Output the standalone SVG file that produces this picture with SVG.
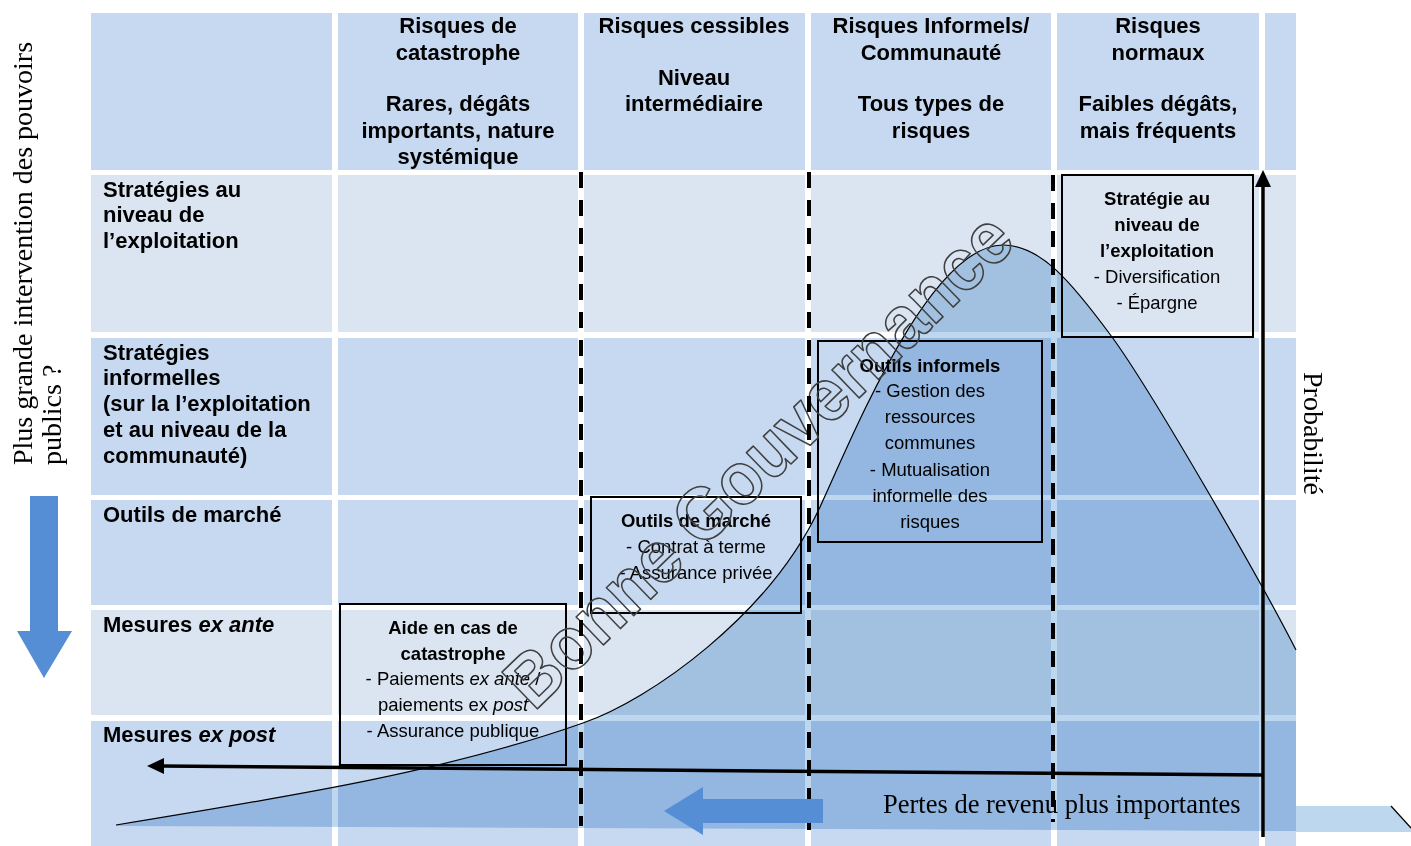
<svg xmlns="http://www.w3.org/2000/svg" width="1411" height="846" viewBox="0 0 1411 846">
<style>
.d{fill:#C6D9F1}
.l{fill:#DBE5F1}
.h{font-family:"Liberation Sans",Arial,sans-serif;font-weight:bold;font-size:22px;fill:#000;text-anchor:middle}
.r{font-family:"Liberation Sans",Arial,sans-serif;font-weight:bold;font-size:22px;fill:#000}
.b{font-family:"Liberation Sans",Arial,sans-serif;font-size:18.5px;fill:#000;text-anchor:middle}
.bb{font-weight:bold}
.it{font-style:italic}
.box{fill:none;stroke:#000;stroke-width:2}
.dash{stroke:#000;stroke-width:4;stroke-dasharray:16 12;fill:none}
.ax{stroke:#000;stroke-width:3.5;fill:none}
.ser{font-family:"Liberation Serif","Times New Roman",serif;fill:#000}
.wm{font-family:"Liberation Sans",Arial,sans-serif;font-weight:bold;font-size:74px;fill:none;stroke:#404040;stroke-width:1.6;stroke-linejoin:round}
.blue{fill:#558ED5}
</style>

<g id="table">
  <rect class="d" x="91" y="13" width="241" height="157"/>
  <rect class="d" x="338" y="13" width="240" height="157"/>
  <rect class="d" x="584" y="13" width="221" height="157"/>
  <rect class="d" x="811" y="13" width="240" height="157"/>
  <rect class="d" x="1057" y="13" width="202" height="157"/>
  <rect class="d" x="1265" y="13" width="31" height="157"/>

  <rect class="l" x="91" y="175" width="241" height="157"/>
  <rect class="l" x="338" y="175" width="240" height="157"/>
  <rect class="l" x="584" y="175" width="221" height="157"/>
  <rect class="l" x="811" y="175" width="240" height="157"/>
  <rect class="l" x="1057" y="175" width="202" height="157"/>
  <rect class="l" x="1265" y="175" width="31" height="157"/>

  <rect class="d" x="91" y="338" width="241" height="157"/>
  <rect class="d" x="338" y="338" width="240" height="157"/>
  <rect class="d" x="584" y="338" width="221" height="157"/>
  <rect class="d" x="811" y="338" width="240" height="157"/>
  <rect class="d" x="1057" y="338" width="202" height="157"/>
  <rect class="d" x="1265" y="338" width="31" height="157"/>

  <rect class="d" x="91" y="500" width="241" height="105"/>
  <rect class="d" x="338" y="500" width="240" height="105"/>
  <rect class="d" x="584" y="500" width="221" height="105"/>
  <rect class="d" x="811" y="500" width="240" height="105"/>
  <rect class="d" x="1057" y="500" width="202" height="105"/>
  <rect class="d" x="1265" y="500" width="31" height="105"/>

  <rect class="l" x="91" y="610" width="241" height="105"/>
  <rect class="l" x="338" y="610" width="240" height="105"/>
  <rect class="l" x="584" y="610" width="221" height="105"/>
  <rect class="l" x="811" y="610" width="240" height="105"/>
  <rect class="l" x="1057" y="610" width="202" height="105"/>
  <rect class="l" x="1265" y="610" width="31" height="105"/>

  <rect class="d" x="91" y="721" width="241" height="125"/>
  <rect class="d" x="338" y="721" width="240" height="125"/>
  <rect class="d" x="584" y="721" width="221" height="125"/>
  <rect class="d" x="811" y="721" width="240" height="125"/>
  <rect class="d" x="1057" y="721" width="202" height="125"/>
  <rect class="d" x="1265" y="721" width="31" height="125"/>
</g>

<g id="curve">
  <path d="M116,825 C300,795 450,770 583,723 C650,700 770,615 820,507 C855,431 930,245 1003,245 C1040,245 1070,280 1112,337 C1150,389 1255,570 1296,650 L1296,831 L116,826 Z" fill="#BDD7EE" style="mix-blend-mode:multiply"/>
  <path d="M1296,806 L1391,806 L1411,828 L1411,832 L1296,832 Z" fill="#BDD7EE"/>
  <path d="M116,825 C300,795 450,770 583,723 C650,700 770,615 820,507 C855,431 930,245 1003,245 C1040,245 1070,280 1112,337 C1150,389 1255,570 1296,650" fill="none" stroke="#000" stroke-width="1.2"/>
  <line x1="1391" y1="806" x2="1411" y2="828" stroke="#000" stroke-width="1.2"/>
</g>

<g id="headers">
  <text class="h" x="458" y="33">Risques de</text>
  <text class="h" x="458" y="60">catastrophe</text>
  <text class="h" x="458" y="111">Rares, dégâts</text>
  <text class="h" x="458" y="138">importants, nature</text>
  <text class="h" x="458" y="164">systémique</text>

  <text class="h" x="694" y="33">Risques cessibles</text>
  <text class="h" x="694" y="85">Niveau</text>
  <text class="h" x="694" y="111">intermédiaire</text>

  <text class="h" x="931" y="33">Risques Informels/</text>
  <text class="h" x="931" y="60">Communauté</text>
  <text class="h" x="931" y="111">Tous types de</text>
  <text class="h" x="931" y="138">risques</text>

  <text class="h" x="1158" y="33">Risques</text>
  <text class="h" x="1158" y="60">normaux</text>
  <text class="h" x="1158" y="111">Faibles dégâts,</text>
  <text class="h" x="1158" y="138">mais fréquents</text>
</g>

<g id="row-labels">
  <text class="r" x="103" y="197">Stratégies au</text>
  <text class="r" x="103" y="222">niveau de</text>
  <text class="r" x="103" y="248">l’exploitation</text>

  <text class="r" x="103" y="360">Stratégies</text>
  <text class="r" x="103" y="385">informelles</text>
  <text class="r" x="103" y="411">(sur la l’exploitation</text>
  <text class="r" x="103" y="437">et au niveau de la</text>
  <text class="r" x="103" y="463">communauté)</text>

  <text class="r" x="103" y="522">Outils de marché</text>
  <text class="r" x="103" y="632">Mesures <tspan class="it">ex ante</tspan></text>
  <text class="r" x="103" y="742">Mesures <tspan class="it">ex post</tspan></text>
</g>

<g id="box-catastrophe">
  <rect class="box" x="340" y="604" width="226" height="161"/>
  <text class="b bb" x="453" y="634">Aide en cas de</text>
  <text class="b bb" x="453" y="660">catastrophe</text>
  <text class="b" x="453" y="685">- Paiements <tspan class="it">ex ante</tspan> /</text>
  <text class="b" x="453" y="711">paiements ex <tspan class="it">post</tspan></text>
  <text class="b" x="453" y="737">- Assurance publique</text>
</g>

<g id="box-marche">
  <rect class="box" x="591" y="497" width="210" height="116"/>
  <text class="b bb" x="696" y="527">Outils de marché</text>
  <text class="b" x="696" y="553">- Contrat à terme</text>
  <text class="b" x="696" y="579">- Assurance privée</text>
</g>

<g id="box-informels">
  <rect class="box" x="818" y="341" width="224" height="201"/>
  <text class="b bb" x="930" y="372">Outils informels</text>
  <text class="b" x="930" y="397">- Gestion des</text>
  <text class="b" x="930" y="423">ressources</text>
  <text class="b" x="930" y="449">communes</text>
  <text class="b" x="930" y="476">- Mutualisation</text>
  <text class="b" x="930" y="502">informelle des</text>
  <text class="b" x="930" y="528">risques</text>
</g>

<g id="box-exploitation">
  <rect class="box" x="1062" y="175" width="191" height="162"/>
  <text class="b bb" x="1157" y="205">Stratégie au</text>
  <text class="b bb" x="1157" y="231">niveau de</text>
  <text class="b bb" x="1157" y="257">l’exploitation</text>
  <text class="b" x="1157" y="283">- Diversification</text>
  <text class="b" x="1157" y="309">- Épargne</text>
</g>

<g id="watermark">
  <text class="wm" x="534" y="712" transform="rotate(-44 534 712)" textLength="673" lengthAdjust="spacingAndGlyphs">Bonne Gouvernance</text>
</g>

<g id="connectors">
  <line class="dash" x1="581" y1="172" x2="581" y2="826"/>
  <line class="dash" x1="809" y1="172" x2="809" y2="830"/>
  <line class="dash" x1="1053" y1="175" x2="1053" y2="822"/>
  <line class="ax" x1="1263" y1="837" x2="1263" y2="184"/>
  <polygon points="1263,170 1255,187 1271,187" fill="#000"/>
  <line class="ax" x1="1263" y1="775" x2="160" y2="766"/>
  <polygon points="147,766 164,758 164,774" fill="#000"/>
  <polygon class="blue" points="30,496 58,496 58,631 72,631 44,678 17,631 30,631"/>
  <polygon class="blue" points="823,799 703,799 703,787 664,811 703,835 703,823 823,823"/>
</g>

<g id="axis-labels">
  <text class="ser" font-size="28" transform="translate(32,465) rotate(-90)">Plus grande intervention des pouvoirs</text>
  <text class="ser" font-size="28" transform="translate(61,465) rotate(-90)">publics ?</text>
  <text class="ser" font-size="28" transform="translate(1304,372) rotate(90)">Probabilité</text>
  <text class="ser" font-size="26.5" x="883" y="813">Pertes de revenu plus importantes</text>
</g>
</svg>
